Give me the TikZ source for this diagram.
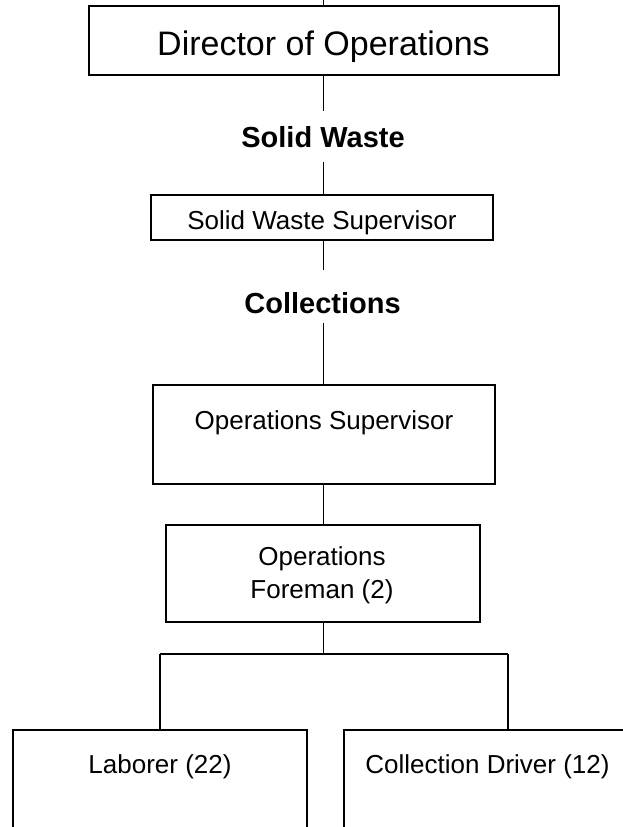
\documentclass[tikz,border=0pt]{standalone}
\usepackage{fontspec}
\setmainfont{Liberation Sans}
\begin{document}
\begin{tikzpicture}[x=1pt,y=-1pt,
  box/.style={draw,line width=1.8pt,inner sep=0pt},
  link/.style={line width=1.1pt},
  lbl/.style={inner sep=0pt,anchor=base,align=center,font=\fontsize{26}{33}\selectfont},
  head/.style={inner sep=0pt,anchor=base,font=\fontsize{29}{34}\selectfont\bfseries}]
\useasboundingbox (0,0) rectangle (623,827);
\clip (0,0) rectangle (623,827);

% boxes of the chart
\node[box,minimum width=470pt,minimum height=69pt] (dir)  at (324,40.5) {};
\node[box,minimum width=342pt,minimum height=45pt] (sws)  at (322,217.5) {};
\node[box,minimum width=342pt,minimum height=99pt] (ops)  at (324,434.5) {};
\node[box,minimum width=314pt,minimum height=97pt] (fore) at (323,573.5) {};
\node[box,minimum width=294pt,minimum height=170pt] (lab) at (160,815) {};
\node[box,minimum width=287pt,minimum height=170pt] (drv) at (487.5,815) {};

% texts (a two-line node sits on the baseline of its last line)
\node[lbl,font=\fontsize{34}{40}\selectfont] (dirt) at (323.5,55) {Director of Operations};
\node[head] (sw)   at (323,147) {Solid Waste};
\node[lbl]  (swst) at (322,229) {Solid Waste Supervisor};
\node[head] (coll) at (322.5,313) {Collections};
\node[lbl]  (opst) at (324,429) {Operations Supervisor};
\node[lbl]  (fort) at (322,598) {Operations\\Foreman (2)};
\node[lbl]  (labt) at (160,773) {Laborer (22)};
\node[lbl]  (drvt) at (487.5,773) {Collection Driver (12)};

% connectors
\coordinate (up)   at (323.5,0);
\coordinate (busL) at (160,654);
\coordinate (busM) at (323.5,654);
\coordinate (busR) at (508,654);
\draw[link] (up) -- (dir.north -| up);
\draw[link] (dir.south -| up) -- ([yshift=15pt]sw.north -| up);
\draw[link] ([yshift=-15pt]sw.south -| up) -- (sws.north -| up);
\draw[link] (sws.south -| up) -- ([yshift=22pt]coll.north -| up);
\draw[link] ([yshift=-10pt]coll.south -| up) -- (ops.north -| up);
\draw[link] (ops.south -| up) -- (fore.north -| up);
\draw[link] (fore.south -| up) -- (busM);
\draw[link] (busL) -- (busR);
\draw[link] (busL) -- (busL |- lab.north);
\draw[link] (busR) -- (busR |- drv.north);
\end{tikzpicture}
\end{document}
